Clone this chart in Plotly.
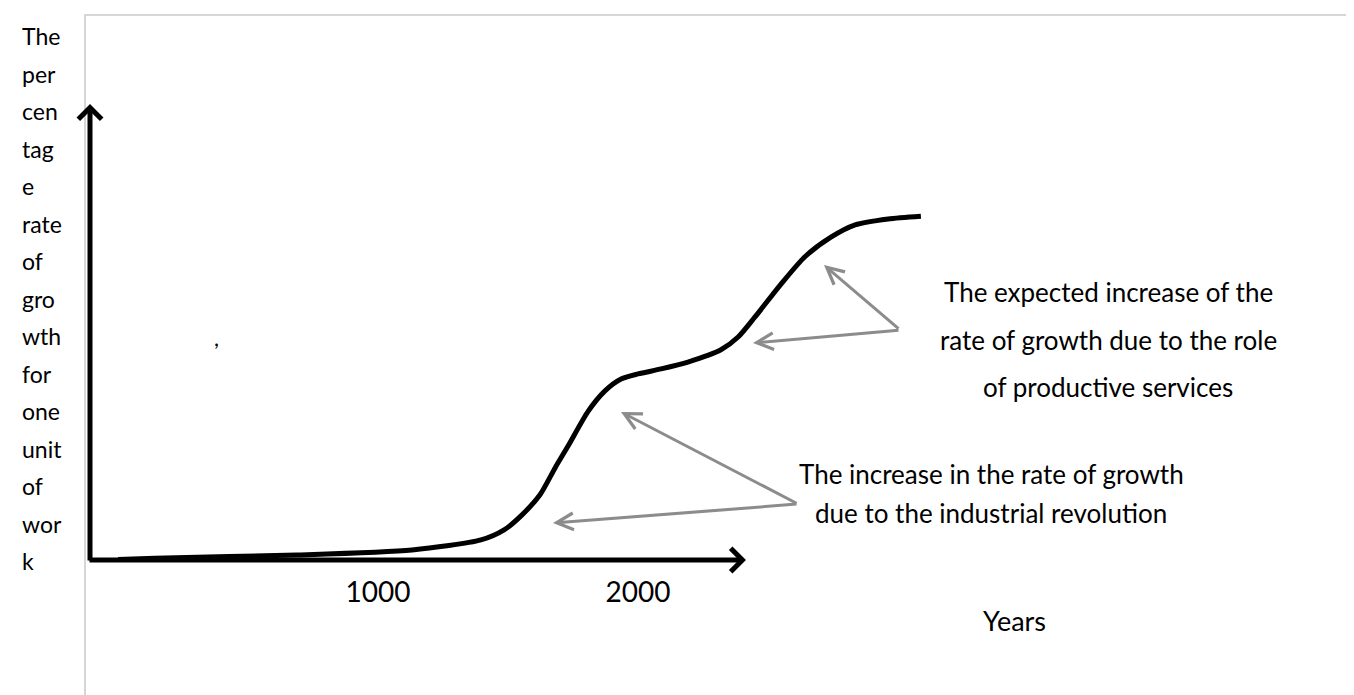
import plotly.graph_objects as go

W, H = 1354, 695

# ---------------- data ----------------
years = [0, 142, 688, 1131, 1396, 1485, 1554, 1623, 1681, 1731, 1808,
         1873, 1935, 2000, 2089, 2192, 2319, 2385, 2450, 2550, 2642, 2742,
         2835, 2962, 3088]
growth = [0.1, 0.4, 1.1, 2.2, 4.4, 6.6, 9.9, 14.3, 20.2, 25.0, 32.6,
          37.1, 39.7, 40.8, 41.9, 43.4, 46.1, 48.9, 53.3, 60.5, 66.5, 70.8,
          73.5, 74.8, 75.4]

tick_years = [1000, 2000]
tick_labels = ["1000", "2000"]

y_title_lines = ["The", "per", "cen", "tag", "e", "rate", "of", "gro", "wth",
                 "for", "one", "unit", "of", "wor", "k"]
services_lines = ["The expected increase of the",
                  "rate of growth due to the role",
                  "of productive services"]
industrial_lines = ["The increase in the rate of growth",
                    "due to the industrial revolution"]
x_title = "Years"

# ---------------- layout geometry ----------------
PX_PER_YEAR = 0.26
X1000_PX = 370
AXIS_Y_PX = 552
PX_PER_UNIT = 4.56

x_range = [1000 - X1000_PX / PX_PER_YEAR, 1000 + (W - X1000_PX) / PX_PER_YEAR]
y_range = [-(H - AXIS_Y_PX) / PX_PER_UNIT, AXIS_Y_PX / PX_PER_UNIT]


def xd(px):
    return 1000 + (px - X1000_PX) / PX_PER_YEAR


def yd(py):
    return (AXIS_Y_PX - py) / PX_PER_UNIT


FONT = "Lato, 'Open Sans', sans-serif"

fig = go.Figure()
fig.add_trace(go.Scatter(
    x=years, y=growth, mode="lines",
    line=dict(color="black", width=5, shape="spline", smoothing=0.7),
    hoverinfo="skip", showlegend=False,
))

annotations = []

# axis arrows
annotations.append(dict(x=xd(82), y=yd(96), ax=xd(82), ay=yd(AXIS_Y_PX + 2),
                        xref="x", yref="y", axref="x", ayref="y", text="",
                        showarrow=True, arrowhead=4, arrowsize=0.9,
                        arrowwidth=5, arrowcolor="black", standoff=0,
                        startstandoff=0))
annotations.append(dict(x=xd(738), y=yd(AXIS_Y_PX), ax=xd(80), ay=yd(AXIS_Y_PX),
                        xref="x", yref="y", axref="x", ayref="y", text="",
                        showarrow=True, arrowhead=4, arrowsize=0.9,
                        arrowwidth=5, arrowcolor="black", standoff=0,
                        startstandoff=0))

# grey pointer arrows
GREY = "#8c8c8c"
pointers = [((892, 322), (816, 257)), ((892, 322), (745, 335)),
            ((790, 496), (613, 404)), ((790, 496), (545, 515))]
for (tx, ty), (hx, hy) in pointers:
    annotations.append(dict(x=xd(hx), y=yd(hy), ax=xd(tx), ay=yd(ty),
                            xref="x", yref="y", axref="x", ayref="y", text="",
                            showarrow=True, arrowhead=5, arrowsize=1.1,
                            arrowwidth=3, arrowcolor=GREY, standoff=0,
                            startstandoff=0))


def text_ann(t, px, py, size, xanchor="center"):
    return dict(text=t, x=px / W, y=1 - py / H, xref="paper", yref="paper",
                showarrow=False, xanchor=xanchor, yanchor="middle",
                font=dict(family=FONT, size=size, color="black"))


for i, t in enumerate(y_title_lines):
    annotations.append(text_ann(t, 12, 28 + 37.5 * i, 23, xanchor="left"))
for i, t in enumerate(services_lines):
    annotations.append(text_ann(t, 1100, 284 + 47.5 * i, 26))
for i, t in enumerate(industrial_lines):
    annotations.append(text_ann(t, 983, 466 + 39 * i, 26))
annotations.append(text_ann(x_title, 1007, 612, 27))
annotations.append(text_ann(",", 208, 330, 22))

shapes = [dict(type="rect", xref="paper", yref="paper",
               x0=77 / W, x1=1352 / W, y0=-0.05, y1=1 - 7 / H,
               line=dict(color="#d6d6d6", width=2), layer="below")]

fig.update_layout(
    width=W, height=H,
    margin=dict(l=0, r=0, t=0, b=0),
    paper_bgcolor="white", plot_bgcolor="white",
    showlegend=False,
    xaxis=dict(range=x_range, domain=[0, 1], anchor="free",
               position=(H - AXIS_Y_PX) / H,
               tickvals=tick_years, ticktext=tick_labels,
               ticks="outside", ticklen=7, tickcolor="rgba(0,0,0,0)",
               tickfont=dict(family=FONT, size=28, color="black"),
               showline=False, showgrid=False, zeroline=False,
               fixedrange=True),
    yaxis=dict(range=y_range, domain=[0, 1], visible=False,
               showgrid=False, zeroline=False, fixedrange=True),
    annotations=annotations,
    shapes=shapes,
)

fig.write_html("out.html")
